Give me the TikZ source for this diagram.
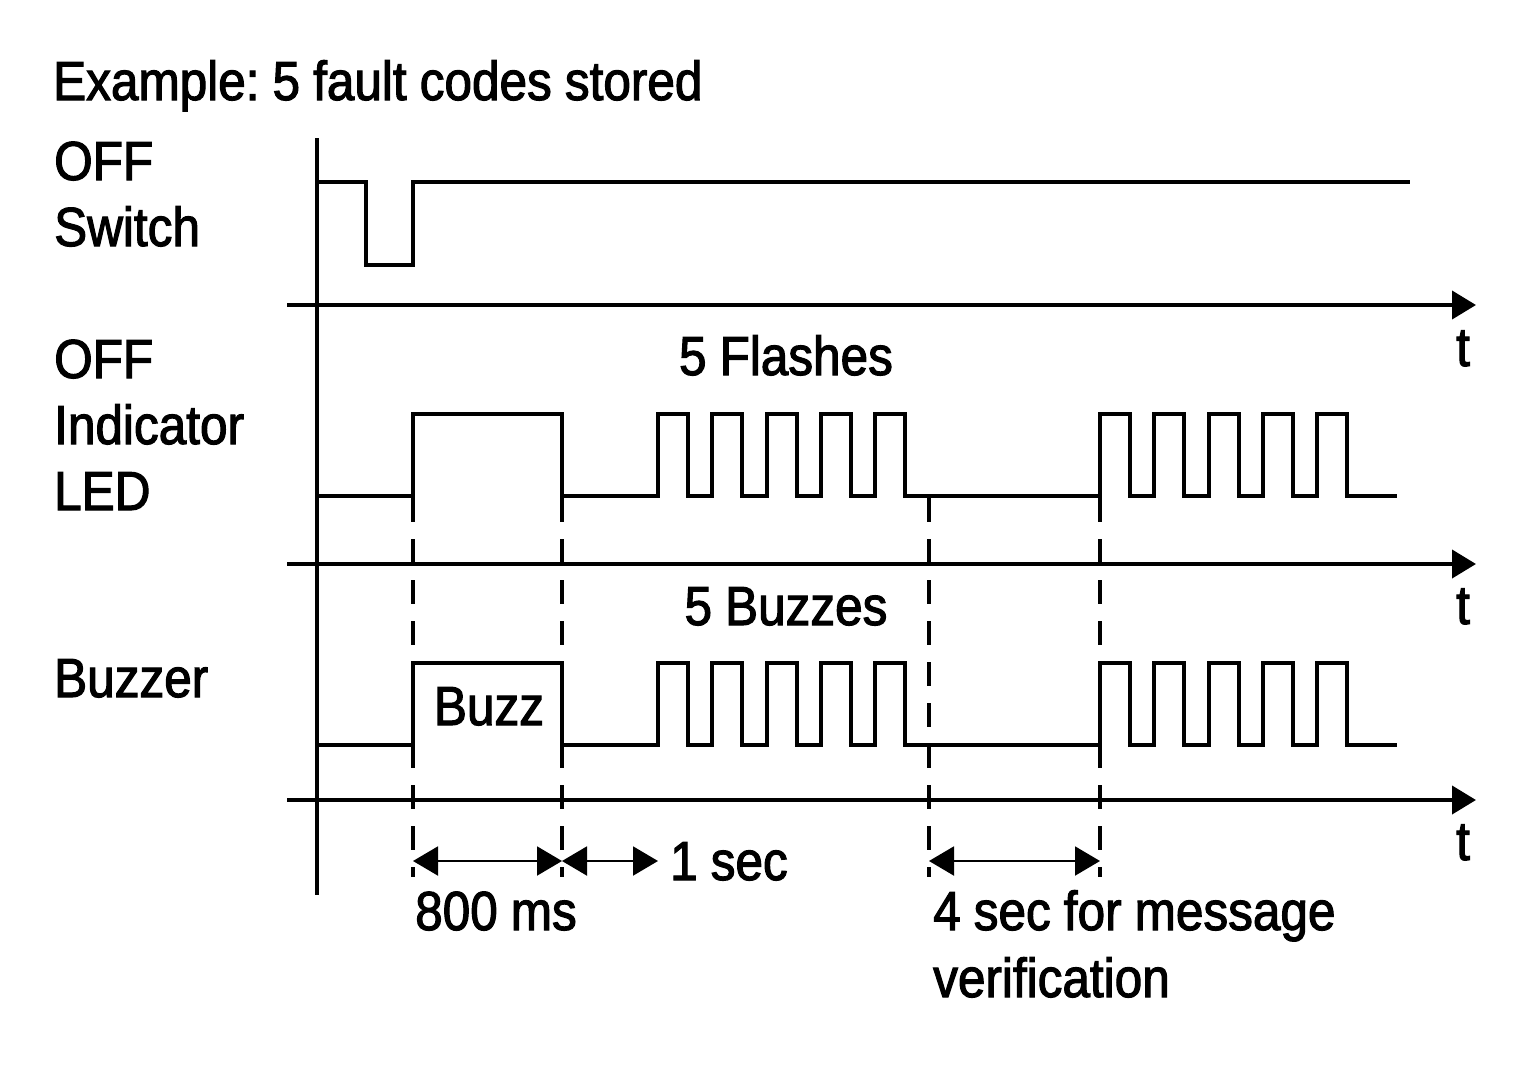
\documentclass[tikz,border=0pt]{standalone}
\usepackage{fontspec}
\setmainfont[FakeStretch=0.9,FakeBold=2,WordSpace=0.95]{Liberation Sans}
\usetikzlibrary{arrows.meta}
\frenchspacing
\newcommand{\sigtrace}[2]{%
  \draw[wave] (317,#1) -- (413,#1) -- (413,#2) -- (562,#2) -- (562,#1)
    \foreach \s in {658,712.3,766.6,820.9,875.2} { -- (\s,#1) -- (\s,#2) -- (\s+30,#2) -- (\s+30,#1) }
    -- (1100,#1)
    \foreach \s in {1100,1154.3,1208.6,1262.9,1317.2} { -- (\s,#1) -- (\s,#2) -- (\s+30,#2) -- (\s+30,#1) }
    -- (1397,#1);}
\begin{document}
\begin{tikzpicture}[x=1pt,y=-1pt,
  lbl/.style={anchor=base west, inner sep=0pt, font=\fontsize{55}{66}\selectfont},
  lblc/.style={anchor=base, inner sep=0pt, font=\fontsize{55}{66}\selectfont},
  wave/.style={line width=4pt, line join=miter},
  axisline/.style={line width=4pt, -{Triangle[length=24pt,width=28pt]}},
  guide/.style={line width=4pt, dash pattern=on 24pt off 17pt},
  dimline/.style={line width=2pt, {Triangle[length=25pt,width=29pt]}-{Triangle[length=25pt,width=29pt]}},
]
\useasboundingbox[fill=white] (0,0) rectangle (1535,1087);

% labels
\node[lbl] (title) at (53,100) {Example: 5 fault codes stored};
\node[lbl] (sw1) at (54,180) {OFF};
\node[lbl] (sw2) at (54,246) {Switch};
\node[lbl] (led1) at (54,378) {OFF};
\node[lbl] (led2) at (54,444) {Indicator};
\node[lbl] (led3) at (54,510) {LED};
\node[lbl] (buz) at (54,697) {Buzzer};
\node[lblc] (flashes) at (786,375) {5 Flashes};
\node[lblc] (buzzes) at (786,625) {5 Buzzes};
\node[lblc] (buzz) at (489,725) {Buzz};
\node[lbl] (ms) at (415,930) {800 ms};
\node[lblc] (sec) at (729,880) {1 sec};
\node[lbl] (four1) at (933,930) {4 sec for message};
\node[lbl] (four2) at (933,997) {verification};
\node[lblc] (t1) at (1463,366) {t};
\node[lblc] (t2) at (1463,624) {t};
\node[lblc] (t3) at (1463,860) {t};

% axes
\draw[line width=4pt] (317,138) -- (317,895);
\draw[axisline] (287,305) -- (1476,305);
\draw[axisline] (287,564) -- (1476,564);
\draw[axisline] (287,800) -- (1476,800);

% switch
\draw[wave] (317,182) -- (366,182) -- (366,265) -- (413,265) -- (413,182) -- (1410,182);

% LED and buzzer
\sigtrace{496}{414}
\sigtrace{745}{663}

% guides
\coordinate (ga) at (413,861);
\coordinate (gb) at (562,861);
\coordinate (gc) at (658,861);
\coordinate (gd) at (929,861);
\coordinate (ge) at (1100,861);
\draw[guide] (413,498) -- (413,877);
\draw[guide] (562,498) -- (562,877);
\draw[guide] (929,498) -- (929,877);
\draw[guide] (1100,498) -- (1100,877);

% dimensions
\draw[dimline] (ga) -- (gb);
\draw[dimline] (gb) -- (gc);
\draw[dimline] (gd) -- (ge);
\end{tikzpicture}
\end{document}
